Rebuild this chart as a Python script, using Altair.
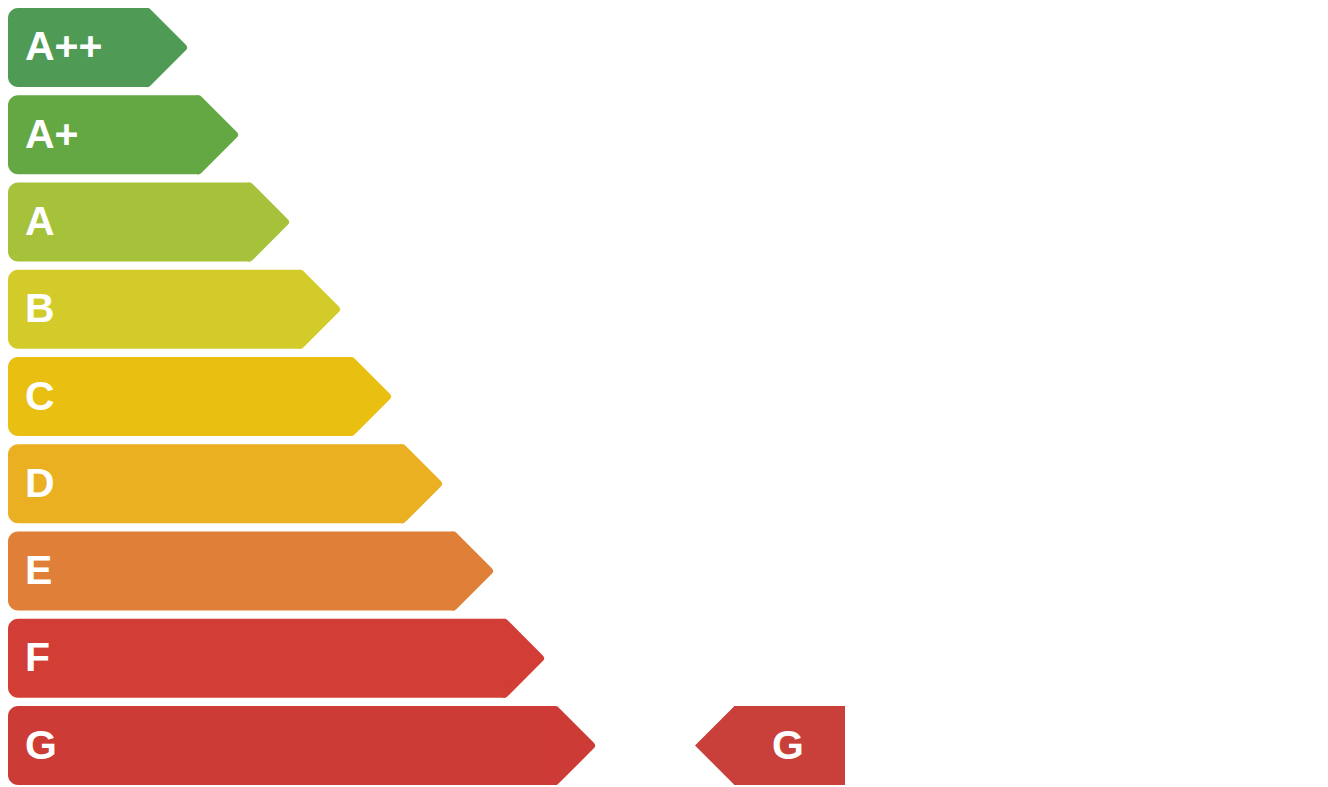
import altair as alt
import pandas as pd

classes = ["A++", "A+", "A", "B", "C", "D", "E", "F", "G"]
lengths = [179, 230, 281, 332, 383, 434, 485, 536, 587]
colors = ["#4f9a55", "#64a844", "#a5c23a", "#d3cb2a", "#e9c012",
          "#ebaf22", "#df7f38", "#d23e36", "#cd3b36"]

indicator_class = ["G"]
indicator_from = [687]
indicator_to = [837]
indicator_color = ["#c93f3a"]

df = pd.DataFrame({"cls": classes, "length": lengths, "color": colors})
ind = pd.DataFrame({"cls": indicator_class, "start": indicator_from,
                    "end": indicator_to, "color": indicator_color})

W, H = 1312, 777
xs = alt.Scale(domain=[0, W], range=[0, W])
ys = alt.Scale(domain=classes, paddingInner=0.095, paddingOuter=0)
X = lambda f: alt.X(f, scale=xs, axis=None)
Y = alt.Y("cls:N", scale=ys, axis=None, sort=classes)

TIP = "M-1,-1L0,0L-1,1Z"
TIP_L = "M1,-1L0,0L1,1Z"

body = alt.Chart(df).mark_bar(
    x2Offset=-39.5, cornerRadiusTopLeft=10, cornerRadiusBottomLeft=10
).encode(
    x=alt.X("zero:Q", scale=xs, axis=None), x2="length:Q", y=Y,
    color=alt.Color("color:N", scale=None),
).transform_calculate(zero="0")

tip = alt.Chart(df).mark_point(
    shape=TIP, size=71 * 71, filled=True, opacity=1, strokeWidth=8,
    strokeJoin="round", xOffset=-4
).encode(
    x=X("length:Q"), y=Y,
    fill=alt.Color("color:N", scale=None),
    stroke=alt.Color("color:N", scale=None),
)

labels = alt.Chart(df).mark_text(
    align="left", baseline="middle", font="Liberation Sans",
    fontWeight="bold", fontSize=41, color="white", dy=1
).encode(x=alt.value(17), y=Y, text="cls:N")

ind_body = alt.Chart(ind).mark_bar(xOffset=39).encode(
    x=X("start:Q"), x2="end:Q", y=Y,
    color=alt.Color("color:N", scale=None),
)
ind_tip = alt.Chart(ind).mark_point(
    shape=TIP_L, size=79 * 79, filled=True, opacity=1, strokeWidth=0
).encode(
    x=X("start:Q"), y=Y,
    fill=alt.Color("color:N", scale=None),
)
ind_text = alt.Chart(ind).mark_text(
    align="center", baseline="middle", font="Liberation Sans",
    fontWeight="bold", fontSize=41, color="white", dy=1, dx=-2
).transform_calculate(mid="(datum.start + 40 + datum.end) / 2").encode(
    x=X("mid:Q"), y=Y, text="cls:N"
)

chart = alt.layer(body, tip, labels, ind_body, ind_tip, ind_text).properties(
    width=W, height=H, autosize=alt.AutoSizeParams(type="none"), padding=0,
    background="white"
).configure_view(stroke=None)

chart.save("out.html", embed_options={"renderer": "svg", "actions": False})
